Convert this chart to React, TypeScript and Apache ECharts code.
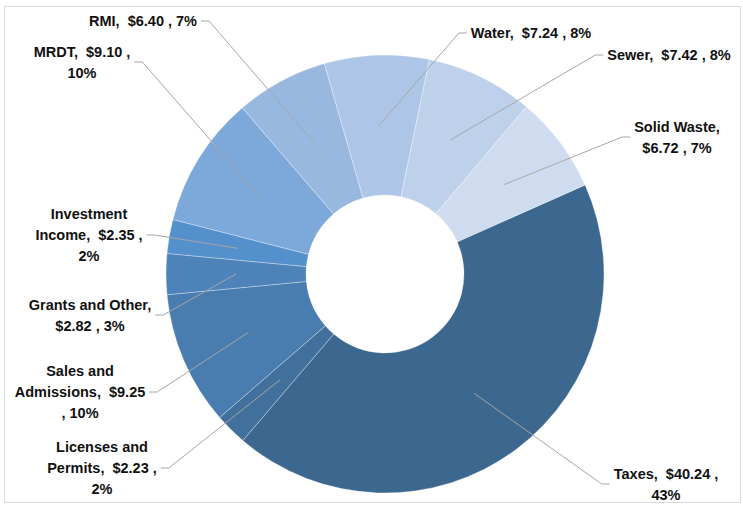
import React, { useEffect, useRef } from "react";
import * as echarts from "echarts";

const categories = [
  "Taxes",
  "Licenses and Permits",
  "Sales and Admissions",
  "Grants and Other",
  "Investment Income",
  "MRDT",
  "RMI",
  "Water",
  "Sewer",
  "Solid Waste",
];
const values = [40.24, 2.23, 9.25, 2.82, 2.35, 9.1, 6.4, 7.24, 7.42, 6.72];
const colors = [
  "#3C6890",
  "#41709C",
  "#4A7DAF",
  "#4D83B9",
  "#5490CB",
  "#7DA8DA",
  "#98B8E0",
  "#ADC5E6",
  "#BDD1EB",
  "#CFDCF0",
];

// text layout of each label (line breaks as in the original)
const labelTemplates = [
  "{n},  ${v} ,\n{p}%",
  "Licenses and\nPermits,  ${v} ,\n{p}%",
  "Sales and\nAdmissions,  ${v}\n, {p}%",
  "Grants and Other,\n${v} , {p}%",
  "Investment\nIncome,  ${v} ,\n{p}%",
  "{n},  ${v} ,\n{p}%",
  "{n},  ${v} , {p}%",
  "{n},  ${v} , {p}%",
  "{n},  ${v} , {p}%",
  "Solid Waste,\n${v} , {p}%",
];

// label block centres (layout)
const labelPos: [number, number][] = [
  [666, 484],
  [102, 468],
  [80, 392],
  [90, 315],
  [89, 235],
  [82, 62],
  [143, 21],
  [531, 33],
  [669, 55],
  [677, 137],
];

export default function App() {
  const ref = useRef<HTMLDivElement>(null);
  useEffect(() => {
    if (!ref.current) return;
    const chart = echarts.init(ref.current, null, { renderer: "svg" });
    const data = categories.map((name, i) => ({
      name,
      value: values[i],
      itemStyle: { color: colors[i] },
    }));
    const labelData = categories.map((name, i) => ({ name, value: values[i] }));
    chart.setOption({
      animation: false,
      backgroundColor: "#ffffff",
      graphic: [
        {
          type: "rect",
          shape: { x: 4.5, y: 6.5, width: 736, height: 496 },
          style: { fill: "none", stroke: "#D9D9D9", lineWidth: 1 },
          silent: true,
        },
      ],
      series: [
        {
          type: "pie",
          center: [385, 274],
          radius: [79, 219],
          startAngle: 24,
          clockwise: true,
          silent: true,
          label: { show: false },
          labelLine: { show: false },
          itemStyle: { borderColor: "rgba(255,255,255,0.4)", borderWidth: 0.8 },
          data,
          z: 1,
        },
        {
          type: "pie",
          center: [385, 274],
          radius: [0, 149],
          startAngle: 24,
          clockwise: true,
          silent: true,
          percentPrecision: 0,
          avoidLabelOverlap: false,
          minShowLabelAngle: 0,
          itemStyle: { color: "rgba(0,0,0,0)", borderWidth: 0 },
          label: {
            show: true,
            position: "outside",
            fontFamily: "Liberation Sans",
            fontWeight: "bold",
            fontSize: 14.5,
            lineHeight: 21,
            color: "#111111",
            align: "center",
            padding: [0, 4],
            formatter: (p: any) =>
              labelTemplates[p.dataIndex]
                .replace("{n}", p.name)
                .replace("{v}", Number(p.value).toFixed(2))
                .replace("{p}", String(p.percent)),
          },
          labelLine: {
            show: true,
            length: 10,
            length2: 8,
            smooth: false,
            lineStyle: { color: "#A6A6A6", width: 1, opacity: 1 },
          },
          labelLayout: (params: any) => ({
            x: labelPos[params.dataIndex][0],
            y: labelPos[params.dataIndex][1],
            align: "center",
            verticalAlign: "middle",
          }),
          data: labelData,
          z: 3,
        },
      ],
    });
    return () => chart.dispose();
  }, []);
  return (
    <div
      ref={ref}
      style={{ position: "fixed", left: 0, top: 0, width: 743, height: 505 }}
    />
  );
}
